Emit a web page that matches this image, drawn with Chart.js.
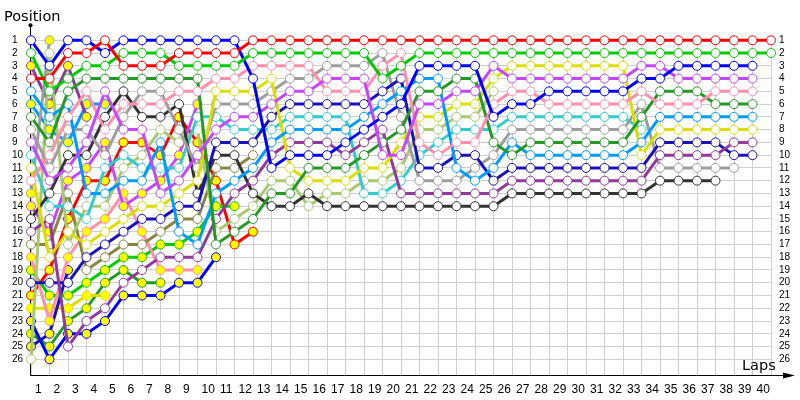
<!DOCTYPE html>
<html><head><meta charset="utf-8">
<script src="https://cdn.jsdelivr.net/npm/chart.js@4"></script>
<style>html,body{margin:0;padding:0;background:#fff}</style>
</head><body>
<canvas id="c" width="800" height="400"></canvas>
<script>
const lapNumbers = [0,1,2,3,4,5,6,7,8,9,10,11,12,13,14,15,16,17,18,19,20,21,22,23,24,25,26,27,28,29,30,31,32,33,34,35,36,37,38,39,40];
const lapLabels = ['1','2','3','4','5','6','7','8','9','10','11','12','13','14','15','16','17','18','19','20','21','22','23','24','25','26','27','28','29','30','31','32','33','34','35','36','37','38','39','40'];
const positionLabels = ['1','2','3','4','5','6','7','8','9','10','11','12','13','14','15','16','17','18','19','20','21','22','23','24','25','26'];

const redW      = [4,4,2,2,1,3,3,3,2,2,2,2,1, 1,1,1,1,1,1,1,1,1,1,1,1,1,1,1,1,1,1,1,1,1,1,1,1,1,1,1,1];
const greenW    = [2,5,4,3,3,2,2,2,3,3,3,3,2, 2,2,2,2,2,2,4,3,2,2,2,2,2,2,2,2,2,2,2,2,2,2,2,2,2,2,2,2];
const blueW     = [1,3,1,1,2,1,1,1,1,1,1,1,4, 11,10,10,10,9,8,7,6,3,3,3,3,7,6,6,5,5,5,5,5,4,4,3,3,3,3,3,null];
const pinkW     = [12,10,7,5,8,6,6,6,5,5,4,4,3, 3,3,3,5,5,5,3,2,9,10,9,9,6,5,5,6,6,6,6,6,5,6,6,6,5,5,5,null];
const grayW     = [8,11,8,8,10,7,5,5,8,11,6,6,6, 5,4,4,3,3,3,2,7,12,12,12,11,10,8,8,8,8,8,8,8,6,11,11,11,11,11,null,null];
const violetW   = [9,12,11,9,5,8,8,13,12,10,8,7,7, 6,5,5,4,4,4,10,10,6,6,5,5,3,4,4,4,4,4,4,4,3,3,4,4,4,4,4,null];
const navyW     = [20,20,20,18,17,16,15,15,14,14,9,9,9, 7,6,6,6,6,6,5,4,11,11,10,10,12,11,11,11,11,11,11,11,11,9,9,9,9,10,10,null];
const cyanW     = [10,14,14,15,11,10,11,11,11,7,7,8,8, 8,7,7,7,7,13,13,12,10,9,8,8,8,7,7,7,7,7,7,7,8,null,null,null,null,null,null,null];
const lightBlueW= [5,7,6,13,13,12,12,9,16,17,13,12,11, 9,8,8,8,8,7,6,5,4,4,11,12,11,9,10,10,10,10,10,10,9,7,7,7,7,7,7,null];
const dkPurpleW = [16,15,25,23,22,20,19,18,18,18,15,13,12, 10,9,9,9,10,9,8,13,13,13,13,13,13,12,12,12,12,12,12,12,12,10,10,10,10,9,9,null];
const yellowW   = [11,18,16,17,16,15,14,14,13,12,5,5,5, 4,11,12,12,12,11,11,9,7,7,6,6,4,3,3,3,3,3,3,3,10,8,8,8,8,8,8,null];
const lightOlive= [26,2,17,14,14,11,10,8,9,8,16,15,14, 12,12,14,13,13,12,12,11,8,8,7,7,5];
const dkGreenW  = [7,9,5,4,4,4,4,4,4,4,17,16,15, 13,13,11,11,11,10,9,8,5,5,4,4,9,10,9,9,9,9,9,9,7,5,5,5,6,6,6,null];
const blackW    = [15,13,10,10,7,5,7,7,6,13,10,10,13, 14,14,13,14,14,14,14,14,14,14,14,14,14,13,13,13,13,13,13,13,13,12,12,12,12,null,null,null];
const oliveW    = [17,17,13,19,18,17,17,16,15,15,11,11,10];
const grayY     = [13,1];
const dkPurpleY = [3,6,3,7];
const lightBlueY= [6,8,9,6,6];
const violetY   = [14,16,12,11,9,14,13,12,10,6];
const pinkY     = [18,23,18,16,15,13,16,19,19,19];
const greenY    = [19,21,21,20,19,18,18,17,17,16,14,14];
const navyY     = [25,24,19];
const redY      = [21,19,15,12,12,9,9,10,7,9,12,17,16];
const yellowY   = [22,22,22,21,21];
const blueY     = [23,26,24,24,23,21,21,21,20,20,18];
const dkGreenY  = [24,25,23,22,20,19,20,20];

const WHITE = '#ffffff', YEL = '#ffff00';
const drivers = [
  ['redW', redW, '#ff0000', WHITE],
  ['greenW', greenW, '#00cc00', WHITE],
  ['blueW', blueW, '#0000ff', WHITE],
  ['violetW', violetW, '#c845ff', WHITE],
  ['pinkW', pinkW, '#ff8fab', WHITE],
  ['dkGreenW', dkGreenW, '#259925', WHITE],
  ['lightBlueW', lightBlueW, '#009cff', WHITE],
  ['yellowW', yellowW, '#dddd00', WHITE],
  ['dkPurpleW', dkPurpleW, '#913a9b', WHITE],
  ['navyW', navyW, '#1a12b8', WHITE],
  ['grayW', grayW, '#9e9e9e', WHITE],
  ['blackW', blackW, '#333333', WHITE],
  ['cyanW', cyanW, '#33cccc', WHITE],
  ['lightOlive', lightOlive, '#a8c96e', WHITE],
  ['oliveW', oliveW, '#878743', WHITE],
  ['grayY', grayY, '#9e9e9e', YEL],
  ['dkPurpleY', dkPurpleY, '#913a9b', YEL],
  ['lightBlueY', lightBlueY, '#009cff', YEL],
  ['violetY', violetY, '#c845ff', YEL],
  ['pinkY', pinkY, '#ff8fab', YEL],
  ['greenY', greenY, '#00cc00', YEL],
  ['navyY', navyY, '#1a12b8', YEL],
  ['redY', redY, '#ff0000', YEL],
  ['yellowY', yellowY, '#dddd00', YEL],
  ['blueY', blueY, '#0000ff', YEL],
  ['dkGreenY', dkGreenY, '#259925', YEL]
];

const datasets = drivers.map(([name, vals, col, fill]) => ({
  label: name,
  data: vals.map((v, i) => ({x: lapNumbers[i], y: v})),
  borderColor: col,
  backgroundColor: col,
  borderWidth: 3,
  pointRadius: 4.5,
  pointBorderWidth: 1,
  pointBorderColor: col,
  pointBackgroundColor: fill,
  tension: 0,
  spanGaps: false,
  clip: false
}));

const fontTick = {family: 'Liberation Sans', size: 10};
const decor = {
  id: 'decor',
  beforeDatasetsDraw(chart) {
    const {ctx, chartArea: {left, top, bottom, right}} = chart;
    ctx.save();
    ctx.strokeStyle = '#000'; ctx.fillStyle = '#000'; ctx.lineWidth = 1;
    const ax = Math.round(left) - 0.5, ay = Math.round(bottom) + 0.5;
    ctx.beginPath();
    ctx.moveTo(ax, top - 15); ctx.lineTo(ax, ay); ctx.lineTo(right + 19, ay);
    ctx.stroke();
    ctx.beginPath(); ctx.arc(ax, top - 15, 2, 0, Math.PI * 2); ctx.fill();
    ctx.beginPath();
    ctx.moveTo(right + 24, ay); ctx.lineTo(right + 12, ay - 3); ctx.lineTo(right + 12, ay + 3); ctx.closePath(); ctx.fill();
    ctx.restore();
  },
  afterDraw(chart) {
    const {ctx, chartArea: {right, bottom}} = chart;
    ctx.save();
    ctx.fillStyle = '#000';
    ctx.font = '14.5px "DejaVu Sans"';
    ctx.textBaseline = 'alphabetic';
    ctx.fillText('Position', 4, 21);
    ctx.fillText('Laps', right - 29, bottom - 5);
    ctx.restore();
  }
};

new Chart(document.getElementById('c'), {
  type: 'line',
  data: {datasets},
  plugins: [decor],
  options: {
    responsive: false, animation: false, devicePixelRatio: 1,
    layout: {padding: {left: 12, top: 40.3, right: 0, bottom: 0}},
    plugins: {legend: {display: false}, tooltip: {enabled: false}, title: {display: false}},
    scales: {
      x: {
        type: 'linear', min: 0, max: 40,
        afterBuildTicks: s => { s.ticks = lapNumbers.map(v => ({value: v})); },
        afterFit: s => { s.height = 25; },
        grid: {color: '#cfcfcf', drawTicks: false, lineWidth: 1},
        border: {display: false},
        ticks: {
          autoSkip: false, maxRotation: 0, minRotation: 0,
          align: 'start', labelOffset: 4, padding: 7,
          color: '#000', font: {family: 'Liberation Sans', size: 12},
          callback: (v) => (lapLabels[v] !== undefined ? lapLabels[v] : '')
        }
      },
      y: {
        type: 'linear', reverse: true, min: 1, max: 27.23, position: 'left',
        afterBuildTicks: s => { s.ticks = positionLabels.map(v => ({value: Number(v)})); },
        afterFit: s => { s.width = 19; },
        grid: {color: '#cfcfcf', drawTicks: false, lineWidth: 1},
        border: {display: false},
        ticks: {autoSkip: false, crossAlign: 'far', color: '#000', font: fontTick, padding: 0,
          callback: v => positionLabels[v - 1]}
      },
      y2: {
        type: 'linear', reverse: true, min: 1, max: 27.23, position: 'right',
        afterBuildTicks: s => { s.ticks = positionLabels.map(v => ({value: Number(v)})); },
        afterFit: s => { s.width = 29; },
        grid: {display: false, drawTicks: false},
        border: {display: false},
        ticks: {autoSkip: false, color: '#000', font: fontTick, padding: 8,
          callback: v => positionLabels[v - 1]}
      }
    }
  }
});
</script>
</body></html>
